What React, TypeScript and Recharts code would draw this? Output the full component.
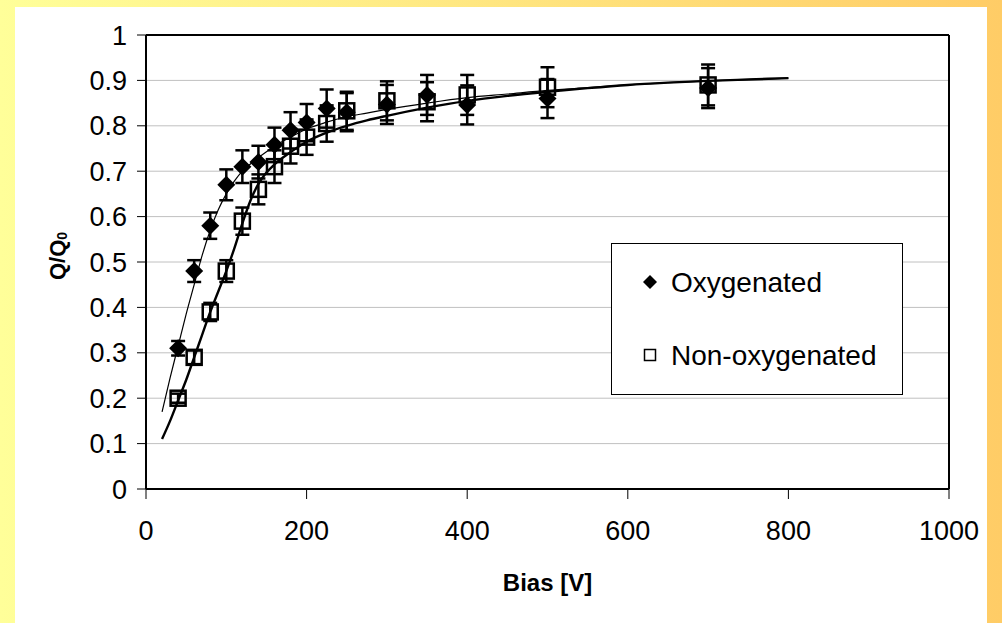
import {
  ComposedChart,
  Line,
  Scatter,
  ErrorBar,
  XAxis,
  YAxis,
  CartesianGrid,
  ReferenceLine,
} from "recharts";

// measured points
const oxyBias = [40, 60, 80, 100, 120, 140, 160, 180, 200, 225, 250, 300, 350, 400, 500, 700];
const oxyQ = [0.31, 0.48, 0.58, 0.67, 0.71, 0.72, 0.758, 0.79, 0.807, 0.838, 0.83, 0.847, 0.868, 0.846, 0.86, 0.883];
const oxyErr = [0.016, 0.024, 0.029, 0.034, 0.036, 0.036, 0.038, 0.04, 0.041, 0.042, 0.042, 0.043, 0.044, 0.043, 0.043, 0.044];

const nonBias = [40, 60, 80, 100, 120, 140, 160, 180, 200, 225, 250, 300, 350, 400, 500, 700];
const nonQ = [0.2, 0.29, 0.39, 0.48, 0.59, 0.66, 0.71, 0.755, 0.775, 0.805, 0.833, 0.855, 0.853, 0.868, 0.885, 0.89];
const nonErr = [0.01, 0.015, 0.02, 0.024, 0.03, 0.033, 0.036, 0.038, 0.039, 0.04, 0.042, 0.043, 0.043, 0.044, 0.044, 0.045];

// fitted curves
const fitBias = [20, 30, 40, 50, 60, 70, 80, 90, 100, 110, 120, 130, 140, 150, 160, 180, 200, 225, 250, 275, 300, 350, 400, 450, 500, 550, 600, 650, 700, 750, 800];
const fitOxy = [0.17, 0.245, 0.315, 0.385, 0.45, 0.515, 0.57, 0.615, 0.65, 0.678, 0.7, 0.716, 0.73, 0.743, 0.755, 0.775, 0.793, 0.808, 0.82, 0.828, 0.836, 0.85, 0.862, 0.87, 0.878, 0.884, 0.89, 0.895, 0.899, 0.902, 0.905];
const fitNon = [0.11, 0.15, 0.195, 0.24, 0.29, 0.34, 0.39, 0.435, 0.48, 0.53, 0.585, 0.635, 0.672, 0.697, 0.715, 0.742, 0.765, 0.785, 0.8, 0.812, 0.822, 0.84, 0.855, 0.866, 0.875, 0.883, 0.89, 0.895, 0.899, 0.902, 0.905];

const xTicks = [0, 200, 400, 600, 800, 1000];
const yTicks = [0, 0.1, 0.2, 0.3, 0.4, 0.5, 0.6, 0.7, 0.8, 0.9, 1];

const oxyData = oxyBias.map((b, i) => ({ bias: b, q: oxyQ[i], err: oxyErr[i] }));
const nonData = nonBias.map((b, i) => ({ bias: b, q: nonQ[i], err: nonErr[i] }));
const fitOxyData = fitBias.map((b, i) => ({ bias: b, q: fitOxy[i] }));
const fitNonData = fitBias.map((b, i) => ({ bias: b, q: fitNon[i] }));

const FONT = "'Liberation Sans', Arial, sans-serif";

const Diamond = (props: any) => {
  const { cx, cy } = props;
  const h = 9;
  return (
    <polygon
      points={`${cx},${cy - h} ${cx + h},${cy} ${cx},${cy + h} ${cx - h},${cy}`}
      fill="#000"
    />
  );
};

const OpenSquare = (props: any) => {
  const { cx, cy } = props;
  return (
    <rect x={cx - 7.5} y={cy - 7.5} width={15} height={15} fill="none" stroke="#000" strokeWidth={2.5} />
  );
};

const YLabel = () => (
  <text
    x={57}
    y={256}
    transform="rotate(-90 57 256)"
    textAnchor="middle"
    dominantBaseline="central"
    fontSize={22}
    fontWeight="bold"
    fill="#000"
  >
    Q/Q<tspan fontSize={14} dy={5}>0</tspan>
  </text>
);

const XLabel = (props: any) => {
  const { viewBox } = props;
  return (
    <text
      x={viewBox.x + viewBox.width / 2}
      y={591}
      textAnchor="middle"
      fontSize={24}
      fontWeight="bold"
      fill="#000"
    >
      Bias [V]
    </text>
  );
};

const App = () => {
  return (
    <div
      style={{
        position: "absolute",
        left: 0,
        top: 0,
        width: 1002,
        height: 623,
        overflow: "hidden",
        background: "linear-gradient(to right, #FFFF99, #FFCC66)",
        fontFamily: FONT,
      }}
    >
      <div
        style={{ position: "absolute", left: 15, top: 7, width: 972, height: 616, background: "#fff" }}
      />
      <div style={{ position: "absolute", left: 0, top: 0 }}>
        <ComposedChart
          width={1002}
          height={623}
          margin={{ top: 35, right: 53, bottom: 24, left: 0 }}
        >
          <CartesianGrid vertical={false} stroke="#C0C0C0" strokeWidth={1} />
          <XAxis
            dataKey="bias"
            type="number"
            domain={[0, 1000]}
            ticks={xTicks}
            interval={0}
            height={110}
            tickSize={10}
            tickMargin={22}
            axisLine={{ stroke: "#000", strokeWidth: 2 }}
            tickLine={{ stroke: "#000", strokeWidth: 1 }}
            tick={{ fontSize: 27, fill: "#000" }}
            label={{ content: XLabel }}
          />
          <YAxis
            type="number"
            domain={[0, 1]}
            ticks={yTicks}
            interval={0}
            width={146}
            tickSize={9}
            tickMargin={10}
            axisLine={{ stroke: "#000", strokeWidth: 2 }}
            tickLine={{ stroke: "#000", strokeWidth: 1 }}
            tick={{ fontSize: 27, fill: "#000" }}
            tickFormatter={(v: number) => String(v)}
            label={{ content: YLabel }}
          />
          <ReferenceLine y={1} stroke="#000" strokeWidth={2} />
          <ReferenceLine x={1000} stroke="#000" strokeWidth={2} />
          <Line
            data={fitOxyData}
            dataKey="q"
            type="monotone"
            stroke="#000"
            strokeWidth={1.2}
            dot={false}
            activeDot={false}
            isAnimationActive={false}
          />
          <Line
            data={fitNonData}
            dataKey="q"
            type="monotone"
            stroke="#000"
            strokeWidth={2.4}
            dot={false}
            activeDot={false}
            isAnimationActive={false}
          />
          <Scatter data={nonData} dataKey="q" shape={OpenSquare} isAnimationActive={false}>
            <ErrorBar dataKey="err" direction="y" width={7} strokeWidth={2.5} stroke="#000" />
          </Scatter>
          <Scatter data={oxyData} dataKey="q" shape={Diamond} isAnimationActive={false}>
            <ErrorBar dataKey="err" direction="y" width={7} strokeWidth={2.5} stroke="#000" />
          </Scatter>
        </ComposedChart>
      </div>
      <svg
        width={292}
        height={152}
        style={{ position: "absolute", left: 611, top: 243 }}
      >
        <rect x={0.5} y={0.5} width={291} height={151} fill="#fff" stroke="#000" strokeWidth={1} />
        <polygon points="39,32 46,39 39,46 32,39" fill="#000" />
        <text x={60} y={49} fontSize={28} fill="#000">Oxygenated</text>
        <rect x={33.5} y={106.5} width={11} height={11} fill="none" stroke="#000" strokeWidth={1.5} />
        <text x={60} y={122} fontSize={28} fill="#000">Non-oxygenated</text>
      </svg>
    </div>
  );
};

export default App;
